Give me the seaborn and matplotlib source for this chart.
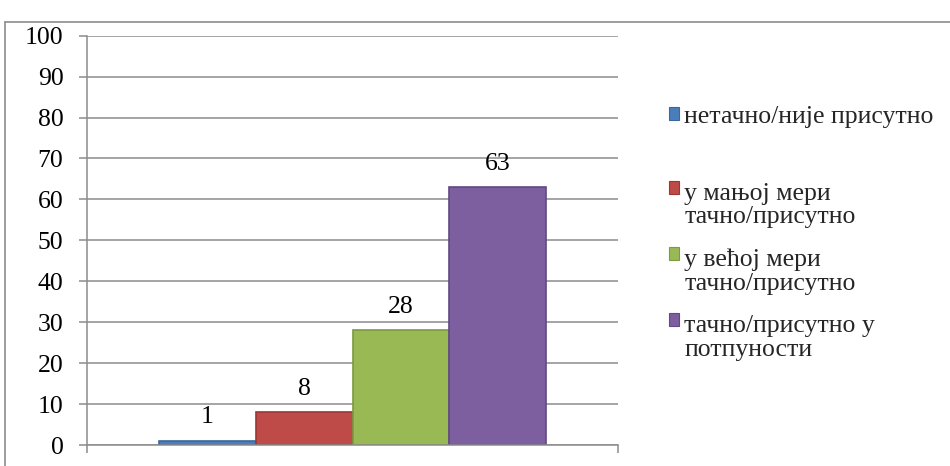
import matplotlib
matplotlib.use("Agg")
import matplotlib.pyplot as plt
import seaborn as sns
import pandas as pd
from matplotlib.patches import Patch, Rectangle
from matplotlib.lines import Line2D
from matplotlib.legend_handler import HandlerPatch

categories = [""]
series = ["нетачно/није присутно",
          "у мањој мери\nтачно/присутно",
          "у већој мери\nтачно/присутно",
          "тачно/присутно у\nпотпуности"]
values = [1, 8, 28, 63]
colors = ["#4A7EBB", "#BE4B48", "#98B954", "#7D5FA0"]
edge_colors = ["#3A679C", "#9C3634", "#7C9A40", "#634884"]
yticks = [0, 10, 20, 30, 40, 50, 60, 70, 80, 90, 100]

sns.set_theme(style="white")
plt.rcParams["font.family"] = ["Liberation Serif", "DejaVu Serif"]
FS = 18.5

df = pd.DataFrame({"cat": categories * len(series), "series": series, "value": values})

fig = plt.figure(figsize=(9.5, 4.66), dpi=100)
W, H = 950, 466
ax = fig.add_axes([87 / W, 21 / H, (618 - 87) / W, (445 - 35.7) / H])

sns.barplot(data=df, x="cat", y="value", hue="series", hue_order=series,
            palette=colors, width=0.73, gap=0, ax=ax, legend=False,
            saturation=1, errorbar=None)

for patch, ec in zip(ax.patches, edge_colors):
    patch.set_edgecolor(ec)
    patch.set_linewidth(1.2)

for cont in ax.containers:
    ax.bar_label(cont, fontsize=FS, padding=9, color="black")

gray = "#8C8C8C"
ax.set_ylim(0, 100)
ax.set_xlim(-0.5, 0.5)
ax.set_yticks(yticks)
ax.set_xticks([-0.5, 0.5])
ax.set_xticklabels(["", ""])
ax.set_xlabel("")
ax.set_ylabel("")
ax.yaxis.grid(True, color=gray, linewidth=1.1)
ax.set_axisbelow(True)
for s in ["top", "right"]:
    ax.spines[s].set_visible(False)
for s in ["left", "bottom"]:
    ax.spines[s].set_color(gray)
    ax.spines[s].set_linewidth(1.1)
ax.tick_params(axis="y", direction="out", length=6, width=1.1, color=gray,
               pad=11, labelsize=FS, labelcolor="black", left=True)
ax.tick_params(axis="x", direction="out", length=6, width=1.1, color=gray,
               bottom=True)

# chart area border
fig.add_artist(Line2D([5 / W, 5 / W], [0, 1 - 22 / H], transform=fig.transFigure,
                      color=gray, linewidth=1.2))
fig.add_artist(Line2D([5 / W, 1], [1 - 22 / H, 1 - 22 / H], transform=fig.transFigure,
                      color=gray, linewidth=1.2))


class TopPatch(HandlerPatch):
    def __init__(self, yoff=0.0, **kw):
        super().__init__(**kw)
        self.yoff = yoff

    def create_artists(self, legend, orig_handle, xdescent, ydescent, width, height,
                       fontsize, trans):
        p = Rectangle(xy=(-xdescent, -ydescent + self.yoff), width=width, height=height)
        self.update_prop(p, orig_handle, legend)
        p.set_transform(trans)
        return [p]


handles = [Patch(facecolor=c, edgecolor=e, linewidth=0.8) for c, e in zip(colors, edge_colors)]
common = dict(loc="upper left", frameon=False, fontsize=FS, handlelength=0.4,
              handleheight=0.4, handletextpad=0.2, borderaxespad=0, borderpad=0)
leg1 = fig.legend(handles[:1], series[:1], bbox_to_anchor=(669 / W, 1 - 106 / H), **common)
line_pt = 12.5
leg2 = fig.legend(handles[1:], series[1:], bbox_to_anchor=(669 / W, 1 - 183 / H),
                  labelspacing=0.8,
                  handler_map={h: TopPatch(yoff=line_pt) for h in handles[1:]}, **common)
for lg in (leg1, leg2):
    for t in lg.get_texts():
        t.set_linespacing(1.08)

fig.savefig("out.png", dpi=100)
